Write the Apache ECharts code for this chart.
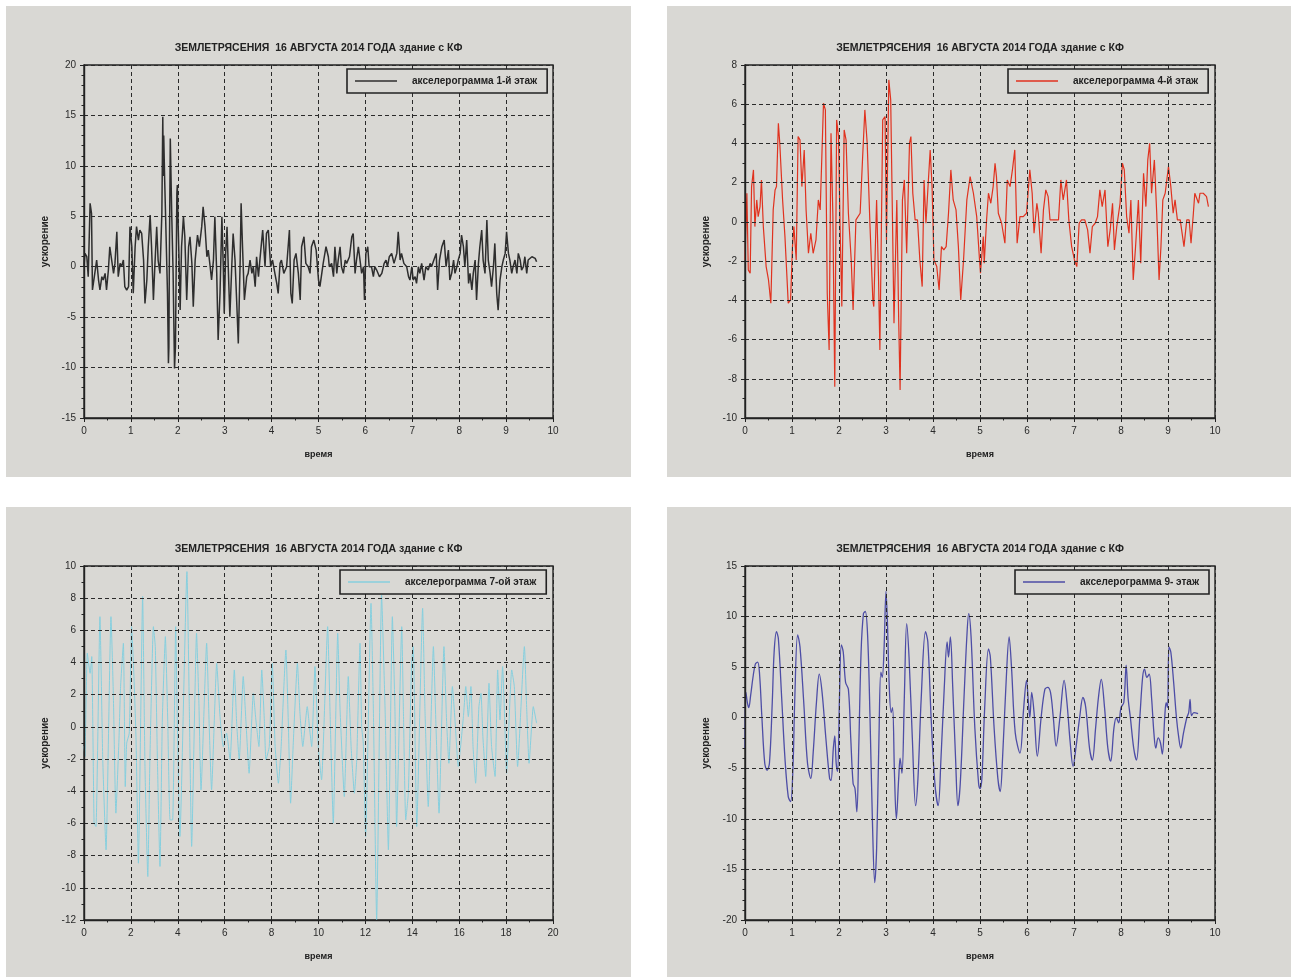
<!DOCTYPE html>
<html>
<head>
<meta charset="utf-8">
<title>ЗЕМЛЕТРЯСЕНИЯ 16 АВГУСТА 2014 ГОДА</title>
<script src="https://cdn.jsdelivr.net/npm/echarts@6/dist/echarts.min.js"></script>
<style>
  html, body { margin: 0; padding: 0; background: #ffffff; }
  #chart { width: 1292px; height: 979px; }
</style>
</head>
<body>
<div id="chart"></div>
<script>
// Accelerograms of the 16 August 2014 earthquake, building with KF
const TITLE = 'ЗЕМЛЕТРЯСЕНИЯ  16 АВГУСТА 2014 ГОДА здание с КФ';
const X_NAME = 'время';
const Y_NAME = 'ускорение';

const names = [
  'акселерограмма 1-й этаж',
  'акселерограмма 4-й этаж',
  'акселерограмма 7-ой этаж',
  'акселерограмма 9- этаж'
];

// [time, acceleration]
const floor1 = [
  [0.00,0.0],[0.02,1.32],[0.06,0.99],[0.09,-0.99],[0.13,6.28],[0.16,5.29],[0.18,-2.31],[0.23,-0.66],
  [0.27,0.66],[0.31,-1.32],[0.34,-2.31],[0.38,-0.99],[0.41,-1.32],[0.45,-0.66],[0.48,-2.31],[0.52,-0.33],
  [0.55,1.98],[0.59,0.66],[0.63,-0.66],[0.66,0.33],[0.70,3.47],[0.73,-0.99],[0.77,0.33],[0.80,0.0],
  [0.84,0.66],[0.87,-1.98],[0.91,-2.31],[0.95,-1.98],[0.98,3.97],[1.02,1.98],[1.05,-2.64],[1.09,1.98],
  [1.12,3.97],[1.16,2.64],[1.19,3.64],[1.23,3.30],[1.27,0.66],[1.30,-3.64],[1.34,-1.32],[1.37,1.98],
  [1.41,5.12],[1.44,1.98],[1.48,-3.30],[1.51,0.0],[1.55,3.97],[1.58,0.66],[1.62,-0.66],[1.66,5.29],
  [1.68,14.87],[1.69,9.0],[1.70,13.0],[1.72,8.59],[1.74,4.96],[1.78,-2.64],[1.80,-9.58],[1.81,-8.0],[1.82,0.66],
  [1.84,12.72],[1.87,5.29],[1.90,-0.66],[1.93,-10.08],[1.95,-7.93],[1.98,7.27],[1.99,8.1],[2.00,5.62],[2.03,0.0],
  [2.05,-4.30],[2.08,1.98],[2.12,4.96],[2.15,2.97],[2.19,-3.30],[2.23,1.98],[2.26,2.97],[2.30,0.33],
  [2.33,-3.97],[2.37,0.66],[2.42,3.14],[2.46,1.98],[2.51,3.97],[2.54,5.95],[2.58,3.97],[2.62,0.99],
  [2.65,1.65],[2.69,0.0],[2.72,-1.32],[2.76,0.66],[2.79,4.96],[2.83,-0.66],[2.86,-7.27],[2.90,-2.64],
  [2.94,4.96],[2.97,0.0],[2.99,-4.63],[3.02,1.32],[3.05,3.97],[3.08,-0.66],[3.11,-4.96],[3.15,0.0],
  [3.18,3.30],[3.22,0.66],[3.26,-3.97],[3.29,-7.60],[3.33,0.66],[3.35,6.28],[3.38,1.98],[3.42,-3.30],
  [3.47,-0.99],[3.50,-0.66],[3.54,0.66],[3.58,-0.66],[3.61,0.0],[3.65,-1.98],[3.68,0.99],[3.72,-0.99],
  [3.75,0.66],[3.81,3.64],[3.86,0.0],[3.89,3.30],[3.93,3.64],[3.98,0.0],[4.02,0.66],[4.07,-0.66],
  [4.11,-1.65],[4.14,-2.64],[4.18,0.33],[4.21,0.66],[4.26,-0.66],[4.32,0.0],[4.38,3.64],[4.41,-2.64],
  [4.44,-3.64],[4.48,0.66],[4.52,1.32],[4.57,-0.66],[4.61,-3.30],[4.64,1.98],[4.69,2.97],[4.73,0.33],
  [4.78,0.0],[4.82,-0.66],[4.85,1.98],[4.90,2.64],[4.95,1.65],[5.00,-1.32],[5.03,-1.98],[5.07,-0.66],
  [5.10,0.33],[5.16,1.98],[5.21,0.99],[5.23,0.0],[5.28,0.33],[5.32,-0.99],[5.35,1.98],[5.39,-0.66],
  [5.42,0.66],[5.46,1.98],[5.49,0.0],[5.53,-0.66],[5.57,0.66],[5.60,0.33],[5.66,0.99],[5.71,2.97],
  [5.74,3.30],[5.78,-0.66],[5.81,0.66],[5.85,1.98],[5.89,1.98],[5.92,-0.66],[5.96,0.0],[5.98,-3.30],
  [6.01,1.32],[6.05,1.98],[6.08,0.0],[6.13,0.0],[6.17,-0.99],[6.20,0.0],[6.24,-0.33],[6.30,-0.99],
  [6.35,-0.66],[6.40,0.33],[6.44,0.66],[6.47,0.0],[6.51,0.99],[6.56,1.32],[6.61,0.33],[6.67,1.32],
  [6.70,3.47],[6.74,0.66],[6.77,1.32],[6.82,0.33],[6.88,0.0],[6.92,-0.99],[6.95,-1.32],[6.99,0.0],
  [7.02,-1.32],[7.06,-0.99],[7.09,-1.65],[7.13,0.0],[7.16,-0.66],[7.20,0.33],[7.25,-1.32],[7.29,0.0],
  [7.34,-0.33],[7.38,0.33],[7.41,0.0],[7.46,0.66],[7.51,1.32],[7.54,-2.31],[7.58,0.66],[7.63,1.98],
  [7.68,2.64],[7.72,0.0],[7.77,1.65],[7.80,-1.32],[7.84,-0.66],[7.88,0.66],[7.91,-0.66],[7.95,0.0],
  [7.98,0.66],[8.02,1.32],[8.05,3.14],[8.09,1.98],[8.12,0.0],[8.16,2.64],[8.20,-1.65],[8.23,-0.66],
  [8.27,-2.31],[8.30,-0.66],[8.34,0.66],[8.37,-3.30],[8.41,0.33],[8.44,1.98],[8.48,3.64],[8.51,0.66],
  [8.55,-0.66],[8.59,4.63],[8.62,0.66],[8.66,-0.66],[8.69,-1.98],[8.73,0.0],[8.76,2.31],[8.80,-2.64],
  [8.83,-4.30],[8.87,-1.32],[8.91,0.0],[8.94,0.66],[8.98,1.32],[9.01,3.47],[9.05,1.32],[9.08,0.66],
  [9.12,-0.66],[9.15,0.0],[9.19,0.66],[9.23,-0.66],[9.26,1.32],[9.30,0.66],[9.33,-0.33],[9.37,0.0],
  [9.40,0.99],[9.44,-0.66],[9.47,0.66],[9.51,0.66],[9.55,0.99],[9.58,1.16],[9.62,0.83],[9.65,0.50]
];

const floor4 = [
  [0.00,-1.94],[0.04,1.46],[0.07,-2.45],[0.11,-2.62],[0.14,1.80],[0.18,2.65],[0.21,-0.24],[0.25,1.12],
  [0.28,0.27],[0.32,0.78],[0.35,2.14],[0.39,-0.24],[0.45,-2.28],[0.50,-2.96],[0.55,-4.15],[0.60,0.61],
  [0.64,1.63],[0.67,1.80],[0.71,5.03],[0.74,4.01],[0.80,1.12],[0.85,-0.75],[0.92,-4.15],[0.97,-3.98],
  [1.01,-1.26],[1.04,-0.24],[1.09,-1.94],[1.13,4.35],[1.17,4.18],[1.21,1.80],[1.26,3.67],[1.30,0.61],
  [1.35,-1.60],[1.40,-0.58],[1.45,-1.60],[1.51,-0.92],[1.56,1.12],[1.60,0.61],[1.67,6.05],[1.71,5.71],
  [1.75,-3.64],[1.79,-6.53],[1.83,4.52],[1.87,0.27],[1.91,-8.40],[1.95,5.20],[1.99,4.35],[2.02,0.10],
  [2.06,-4.32],[2.11,4.69],[2.15,4.18],[2.20,0.44],[2.26,-1.94],[2.30,-4.49],[2.36,0.10],[2.45,0.44],
  [2.50,3.16],[2.55,5.71],[2.60,4.01],[2.66,-0.24],[2.72,-3.98],[2.74,-4.32],[2.80,1.12],[2.84,-2.79],
  [2.87,-6.53],[2.93,5.20],[2.98,5.37],[3.01,-0.92],[3.06,7.24],[3.10,6.22],[3.14,-0.24],[3.17,-5.17],
  [3.23,1.12],[3.27,-5.00],[3.30,-8.57],[3.35,1.12],[3.39,2.14],[3.44,-1.60],[3.50,4.01],[3.53,4.35],
  [3.57,1.46],[3.62,0.10],[3.67,0.10],[3.72,-1.94],[3.77,-3.30],[3.81,2.14],[3.85,-0.07],[3.89,1.63],
  [3.94,3.67],[3.98,1.80],[4.02,-1.94],[4.08,-2.28],[4.13,-3.47],[4.18,-1.26],[4.23,-1.43],[4.28,-1.26],
  [4.33,0.44],[4.38,2.65],[4.43,1.12],[4.49,0.61],[4.54,-1.26],[4.59,-3.98],[4.65,-1.94],[4.72,1.12],
  [4.79,2.31],[4.86,1.46],[4.93,0.27],[4.99,-1.94],[5.01,-2.62],[5.07,-0.75],[5.09,-2.11],[5.14,0.10],
  [5.18,1.46],[5.23,0.95],[5.28,1.80],[5.32,2.99],[5.35,2.31],[5.39,0.44],[5.46,-0.07],[5.53,-1.09],
  [5.58,2.14],[5.64,1.80],[5.69,2.65],[5.74,3.67],[5.79,-1.09],[5.85,0.27],[5.92,0.27],[5.99,0.44],
  [6.06,2.65],[6.11,1.46],[6.15,-0.58],[6.21,0.95],[6.24,0.44],[6.30,-1.60],[6.35,0.61],[6.40,1.63],
  [6.45,1.29],[6.49,0.10],[6.60,0.10],[6.67,0.10],[6.72,2.14],[6.77,1.12],[6.84,2.14],[6.89,0.10],
  [6.95,-1.26],[7.01,-1.94],[7.06,-2.28],[7.11,-0.07],[7.16,0.10],[7.23,0.10],[7.29,-0.41],[7.34,-1.60],
  [7.39,-0.24],[7.45,-0.07],[7.50,0.27],[7.55,1.63],[7.60,0.78],[7.66,1.63],[7.72,-1.26],[7.77,-0.41],
  [7.82,0.95],[7.86,-1.43],[7.91,-0.24],[7.98,0.95],[8.03,2.99],[8.07,2.65],[8.12,0.27],[8.17,-0.58],
  [8.21,1.12],[8.26,-2.96],[8.31,-1.26],[8.37,1.12],[8.42,-2.11],[8.48,2.48],[8.53,0.78],[8.57,3.16],
  [8.61,4.01],[8.65,1.46],[8.71,3.16],[8.76,0.44],[8.81,-2.96],[8.85,-1.26],[8.89,1.12],[8.94,1.46],
  [9.01,2.82],[9.06,1.80],[9.11,0.44],[9.15,1.12],[9.20,0.10],[9.26,0.10],[9.29,-0.41],[9.34,-1.26],
  [9.40,0.10],[9.45,0.10],[9.49,-1.09],[9.54,0.44],[9.57,1.46],[9.65,0.95],[9.68,1.46],[9.75,1.46],
  [9.82,1.29],[9.86,0.78]
];

const floor7 = [
  [0.00,-1.2],[0.04,-1.84],[0.14,4.58],[0.26,3.33],[0.33,4.37],[0.43,-5.98],[0.51,-6.19],[0.68,6.85],
  [0.80,-2.05],[0.94,-7.64],[1.15,6.85],[1.25,2.09],[1.36,-5.36],[1.49,-0.81],[1.56,2.51],[1.68,5.20],
  [1.76,-3.71],[1.82,-1.01],[1.93,-0.39],[2.03,6.23],[2.13,3.13],[2.22,-0.81],[2.32,-8.47],[2.50,8.10],
  [2.60,-2.46],[2.72,-9.30],[2.81,-2.05],[2.96,6.23],[3.04,4.99],[3.13,-2.05],[3.24,-8.67],[3.34,0.43],
  [3.47,5.61],[3.57,0.43],[3.67,-5.78],[3.78,-5.78],[3.91,6.23],[3.99,-0.60],[4.09,-6.81],[4.39,9.65],
  [4.49,1.26],[4.59,-7.43],[4.80,5.82],[4.90,1.47],[4.99,-3.91],[5.23,5.20],[5.34,0.02],[5.44,-3.91],
  [5.66,3.95],[5.80,0.64],[5.94,-1.22],[6.08,-0.39],[6.23,-2.05],[6.41,3.54],[6.51,0.23],[6.62,-2.05],
  [6.79,3.13],[6.91,0.23],[7.04,-2.88],[7.22,2.09],[7.33,0.43],[7.46,-1.22],[7.58,3.54],[7.69,0.43],
  [7.76,-2.05],[7.90,-1.22],[8.03,3.95],[8.15,-1.22],[8.29,-3.50],[8.40,-1.43],[8.61,4.78],[8.71,0.43],
  [8.81,-4.74],[8.93,-0.81],[9.10,3.95],[9.21,0.85],[9.33,-1.22],[9.52,1.26],[9.64,-0.39],[9.71,-1.22],
  [9.85,3.75],[9.99,-1.22],[10.13,-3.29],[10.39,6.23],[10.49,1.06],[10.63,-5.98],[10.82,5.82],[10.92,1.06],
  [11.10,-4.33],[11.27,3.13],[11.39,-1.22],[11.53,-4.12],[11.63,-2.05],[11.77,5.20],[11.84,0.02],[11.91,-1.01],
  [12.01,-6.81],[12.24,7.68],[12.34,1.06],[12.48,-11.99],[12.69,8.20],[12.84,1.06],[12.98,-7.64],[13.15,6.85],
  [13.26,1.06],[13.33,-6.19],[13.55,6.23],[13.62,1.06],[13.72,-5.78],[13.83,-4.12],[13.97,3.95],[14.04,4.99],
  [14.19,-6.19],[14.44,7.37],[14.54,1.06],[14.68,-4.95],[14.90,4.99],[15.01,0.02],[15.14,-5.36],[15.35,4.99],
  [15.46,0.43],[15.56,-2.26],[15.71,2.51],[15.82,0.43],[15.96,-2.46],[16.18,0.64],[16.28,2.51],[16.39,0.64],
  [16.50,2.51],[16.59,-1.22],[16.70,-3.50],[16.84,1.26],[16.93,2.09],[17.01,-0.60],[17.13,-3.08],[17.27,2.71],
  [17.38,-1.22],[17.53,-3.08],[17.64,3.54],[17.74,0.43],[17.85,3.75],[17.95,0.02],[18.02,-2.88],[18.24,3.54],
  [18.35,2.51],[18.49,-2.46],[18.78,4.99],[18.88,1.06],[18.98,-2.26],[19.16,1.26],[19.30,0.23]
];

const floor9 = [
  [0.00,-3.0],[0.02,2.5],[0.05,1.5],[0.08,1.0],[0.12,2.2],[0.17,4.0],[0.22,5.3],[0.27,5.5],[0.31,4.3],
  [0.36,0.0],[0.42,-4.5],[0.47,-5.2],[0.52,-4.5],[0.58,1.5],[0.62,6.5],[0.67,8.5],[0.71,7.8],[0.78,2.0],
  [0.85,-4.0],[0.92,-7.8],[0.97,-8.3],[1.02,-5.0],[1.06,2.0],[1.12,8.2],[1.17,7.0],[1.25,1.5],[1.33,-4.5],
  [1.40,-6.0],[1.45,-3.5],[1.52,1.5],[1.58,4.3],[1.64,2.5],[1.72,-2.0],[1.80,-6.0],[1.83,-6.2],[1.88,-3.0],
  [1.91,-1.8],[1.94,-4.5],[1.97,-5.3],[2.01,2.0],[2.05,7.2],[2.09,6.5],[2.14,3.5],[2.20,2.8],[2.25,-2.0],
  [2.30,-6.5],[2.34,-7.0],[2.38,-9.3],[2.42,-3.0],[2.47,6.5],[2.52,10.3],[2.56,10.5],[2.61,8.0],[2.66,0.0],
  [2.71,-10.0],[2.76,-16.3],[2.80,-13.0],[2.85,-2.0],[2.89,4.5],[2.92,4.0],[2.96,7.0],[3.00,12.5],[3.03,9.5],
  [3.07,3.0],[3.11,0.5],[3.14,1.0],[3.18,-5.5],[3.22,-10.0],[3.27,-6.0],[3.30,-4.0],[3.34,-5.5],[3.39,2.0],
  [3.44,9.3],[3.49,6.0],[3.56,-2.0],[3.63,-8.7],[3.68,-6.0],[3.75,2.0],[3.84,8.5],[3.89,7.5],[3.96,0.0],
  [4.04,-6.5],[4.11,-8.7],[4.17,-4.0],[4.24,3.0],[4.30,7.5],[4.33,6.0],[4.37,8.0],[4.42,3.0],[4.48,-4.0],
  [4.53,-8.7],[4.58,-6.5],[4.66,2.0],[4.72,8.0],[4.76,10.3],[4.81,8.0],[4.89,-1.0],[4.97,-6.5],[5.00,-7.0],
  [5.04,-6.0],[5.10,1.0],[5.18,6.8],[5.22,6.0],[5.30,-1.0],[5.38,-6.0],[5.43,-7.3],[5.48,-4.0],[5.55,3.0],
  [5.62,8.0],[5.67,5.0],[5.75,-1.5],[5.85,-3.5],[5.93,1.0],[5.99,3.7],[6.03,1.5],[6.06,0.0],[6.10,2.5],
  [6.15,0.5],[6.22,-3.8],[6.30,0.0],[6.38,2.8],[6.44,3.0],[6.50,2.5],[6.56,0.0],[6.62,-2.8],[6.70,0.0],
  [6.79,3.7],[6.85,1.5],[6.92,-2.5],[6.98,-4.8],[7.04,-3.0],[7.12,0.0],[7.19,2.0],[7.25,1.0],[7.33,-3.0],
  [7.39,-4.2],[7.46,-1.0],[7.52,2.0],[7.58,3.8],[7.65,1.0],[7.72,-3.0],[7.78,-4.3],[7.85,-1.0],[7.90,0.0],
  [7.95,-0.5],[8.00,1.0],[8.06,1.5],[8.11,5.2],[8.15,2.0],[8.20,0.0],[8.27,-3.0],[8.33,-4.2],[8.40,0.0],
  [8.46,4.0],[8.50,4.8],[8.55,4.0],[8.60,4.3],[8.65,2.0],[8.70,-1.5],[8.74,-3.0],[8.79,-2.0],[8.84,-2.5],
  [8.88,-3.6],[8.93,0.0],[8.96,1.5],[8.99,1.0],[9.02,7.0],[9.06,6.5],[9.12,3.5],[9.18,0.0],[9.23,-2.0],
  [9.27,-3.0],[9.33,-1.5],[9.40,0.0],[9.44,0.5],[9.47,1.8],[9.50,0.2],[9.55,0.5],[9.64,0.4]
];

// axis ranges per panel: [min, max, interval, minor subdivisions]
const xRanges = [[0, 10, 1, 2], [0, 10, 1, 2], [0, 20, 2, 2], [0, 10, 1, 2]];
const yRanges = [[-15, 20, 5, 5], [-10, 8, 2, 2], [-12, 10, 2, 2], [-20, 15, 5, 5]];

const seriesData = [floor1, floor4, floor7, floor9];

// ---- layout & styling ----
const PANEL_BG = '#d9d8d4';
const INK = '#222222';
const FONT = '"Liberation Sans", Arial, sans-serif';
const lineColors = ['#2e2e2e', '#e0321f', '#86cfde', '#4d4da6'];
const lineWidths = [1.5, 1.2, 1.0, 1.3];
const smoothing = [false, false, 0.15, 0.35];

const layout = [
  { bg: [6, 6, 625, 471],   grid: { left: 84,  top: 65,  width: 469, height: 353 }, legend: { left: 347,  top: 69 } },
  { bg: [667, 6, 624, 471], grid: { left: 745, top: 65,  width: 470, height: 353 }, legend: { left: 1008, top: 69 } },
  { bg: [6, 507, 625, 470], grid: { left: 84,  top: 566, width: 469, height: 354 }, legend: { left: 340,  top: 570 } },
  { bg: [667, 507, 624, 470], grid: { left: 745, top: 566, width: 470, height: 354 }, legend: { left: 1015, top: 570 } }
];

const dashed = { color: '#2a2a2a', width: 1, type: [4, 3] };

const grids = [], xAxes = [], yAxes = [], series = [], legends = [], graphics = [];

layout.forEach((p, i) => {
  grids.push(Object.assign({
    show: true, backgroundColor: PANEL_BG, borderColor: INK, borderWidth: 1.4, containLabel: false
  }, p.grid));

  const xr = xRanges[i], yr = yRanges[i];
  xAxes.push({
    type: 'value', gridIndex: i, min: xr[0], max: xr[1], interval: xr[2], z: 3,
    name: X_NAME, nameLocation: 'middle', nameGap: 32,
    nameTextStyle: { fontFamily: FONT, fontSize: 9, fontWeight: 'bold', color: INK },
    axisLine: { show: true, onZero: false, lineStyle: { color: INK, width: 1.4 } },
    axisTick: { show: true, inside: false, length: 4, lineStyle: { color: INK } },
    minorTick: { show: true, splitNumber: xr[3], length: 2.5, lineStyle: { color: INK } },
    axisLabel: { fontFamily: FONT, fontSize: 10, color: '#2a2a2a', margin: 8 },
    splitLine: { show: true, lineStyle: dashed }
  });
  yAxes.push({
    type: 'value', gridIndex: i, min: yr[0], max: yr[1], interval: yr[2], z: 3,
    name: Y_NAME, nameLocation: 'middle', nameGap: 34, nameRotate: 90,
    nameTextStyle: { fontFamily: FONT, fontSize: 10, fontWeight: 'bold', color: INK },
    axisLine: { show: true, onZero: false, lineStyle: { color: INK, width: 1.4 } },
    axisTick: { show: true, inside: false, length: 4, lineStyle: { color: INK } },
    minorTick: { show: true, splitNumber: yr[3], length: 2.5, lineStyle: { color: INK } },
    axisLabel: { fontFamily: FONT, fontSize: 10, color: '#2a2a2a', margin: 8 },
    splitLine: { show: true, lineStyle: dashed }
  });

  series.push({
    type: 'line', name: names[i], xAxisIndex: i, yAxisIndex: i,
    data: seriesData[i], showSymbol: false, symbol: 'none',
    smooth: smoothing[i], z: 2, animation: false,
    lineStyle: { color: lineColors[i], width: lineWidths[i] },
    itemStyle: { color: lineColors[i] }
  });

  legends.push({
    data: [names[i]], left: p.legend.left, top: p.legend.top,
    orient: 'horizontal', selectedMode: false,
    backgroundColor: PANEL_BG, borderColor: INK, borderWidth: 1.6, borderRadius: 0,
    padding: [7, 10, 7, 8],
    icon: 'rect', itemWidth: 42, itemHeight: 1.4,
    textStyle: { fontFamily: FONT, fontSize: 10, fontWeight: 'bold', color: INK, padding: [0, 0, 0, 10] }
  });

  const b = p.bg;
  graphics.push({
    type: 'rect', z: -10, silent: true,
    shape: { x: b[0], y: b[1], width: b[2], height: b[3] },
    style: { fill: PANEL_BG }
  });
  graphics.push({
    type: 'text', z: 10, silent: true,
    x: p.grid.left + p.grid.width / 2, y: p.grid.top - 17,
    style: {
      text: TITLE, fill: INK, align: 'center', verticalAlign: 'middle',
      font: 'bold 10.5px ' + FONT
    }
  });
});

const chart = echarts.init(document.getElementById('chart'), null, { renderer: 'canvas' });
chart.setOption({
  animation: false,
  backgroundColor: '#ffffff',
  grid: grids,
  xAxis: xAxes,
  yAxis: yAxes,
  legend: legends,
  series: series,
  graphic: { elements: graphics }
});
</script>
</body>
</html>
